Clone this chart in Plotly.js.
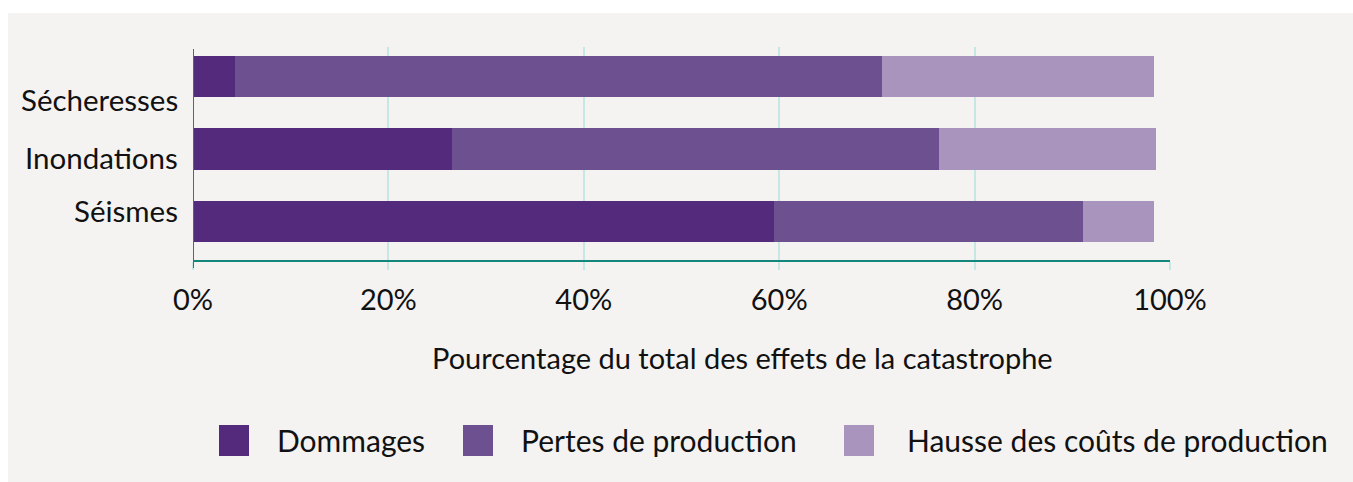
<!DOCTYPE html>
<html>
<head>
<meta charset="utf-8">
<script src="https://cdn.plot.ly/plotly-3.0.1.min.js"></script>
<style>
  html, body { margin: 0; padding: 0; background: #ffffff; width: 1353px; height: 482px; overflow: hidden; }
  #chart { position: absolute; left: 8px; top: 13px; width: 1345px; height: 469px; }
</style>
</head>
<body>
<div id="chart"></div>
<script>
// ---- data ----
const categories = ["Séismes", "Inondations", "Sécheresses"];
const seriesNames = ["Dommages", "Pertes de production", "Hausse des coûts de production"];
const dommages = [59.5, 26.5, 4.3];
const pertes = [31.6, 49.9, 66.2];
const hausse = [7.3, 22.2, 27.9];
const xTickVals = [0, 20, 40, 60, 80, 100];
const xTickText = ["0%", "20%", "40%", "60%", "80%", "100%"];
const xTitle = "Pourcentage du total des effets de la catastrophe";

// ---- style ----
const colors = ["#542b7c", "#6d508f", "#a894bc"];
const FONT = "Lato, 'Open Sans', sans-serif";
const FS = 29;
const FS_CAT = 29.5;
const FS_LEG = 30;
const W = 1345, H = 469;
const M = { l: 185, r: 183, t: 34, b: 222 };
const PW = W - M.l - M.r, PH = H - M.t - M.b;
const px = x => (x - M.l) / PW;
const py = y => 1 - (y - M.t) / PH;
const labelShift = [11, -8, -23];

const values = [dommages, pertes, hausse];
const traces = seriesNames.map((n, i) => ({
  type: "bar",
  orientation: "h",
  name: n,
  y: categories,
  x: values[i],
  marker: { color: colors[i], line: { width: 0 } },
  hoverinfo: "x+name"
}));

const annotations = [];
categories.forEach((c, i) => {
  annotations.push({
    text: c, xref: "paper", yref: "y", x: 0, y: c,
    xanchor: "right", yanchor: "middle", xshift: -13, yshift: labelShift[i],
    showarrow: false, font: { family: FONT, size: FS_CAT, color: "#111111" }
  });
});
annotations.push({
  text: xTitle, xref: "paper", yref: "paper", x: px(734.5), y: py(344),
  xanchor: "center", yanchor: "middle", showarrow: false,
  font: { family: FONT, size: FS, color: "#111111" }
});

const shapes = [{
  type: "line", xref: "x", yref: "paper", x0: 0, x1: 0, y0: py(255), y1: py(36),
  line: { color: "#14877d", width: 2 }, layer: "above"
}];
const legSq = [211, 455, 836];
const legTx = [267, 511, 897];
seriesNames.forEach((n, i) => {
  shapes.push({
    type: "rect", xref: "paper", yref: "paper",
    x0: px(legSq[i]), x1: px(legSq[i] + 30), y0: py(412), y1: py(443),
    fillcolor: colors[i], line: { width: 0 }
  });
  annotations.push({
    text: n, xref: "paper", yref: "paper", x: px(legTx[i]), y: py(427),
    xanchor: "left", yanchor: "middle", showarrow: false,
    font: { family: FONT, size: FS_LEG, color: "#111111" }
  });
});

const layout = {
  width: W, height: H,
  margin: M,
  paper_bgcolor: "#f4f3f1",
  plot_bgcolor: "#f4f3f1",
  barmode: "stack",
  bargap: 0.434,
  showlegend: false,
  font: { family: FONT, size: FS, color: "#111111" },
  xaxis: {
    range: [0, 100], tickvals: xTickVals, ticktext: xTickText,
    showgrid: true, gridcolor: "#c6e8e5", gridwidth: 2,
    ticks: "outside", ticklen: 8, tickwidth: 2, tickcolor: "#c6e8e5",
    showline: true, linecolor: "#14877d", linewidth: 2,
    zeroline: false, ticklabelstandoff: 5,
    tickfont: { family: FONT, size: FS, color: "#111111" },
    fixedrange: true
  },
  yaxis: {
    range: [-0.531, 2.407], showticklabels: false, showgrid: false,
    zeroline: false, showline: false, ticks: "", fixedrange: true
  },
  shapes: shapes,
  annotations: annotations
};

Plotly.newPlot("chart", traces, layout, { displayModeBar: false, staticPlot: true });
</script>
</body>
</html>
